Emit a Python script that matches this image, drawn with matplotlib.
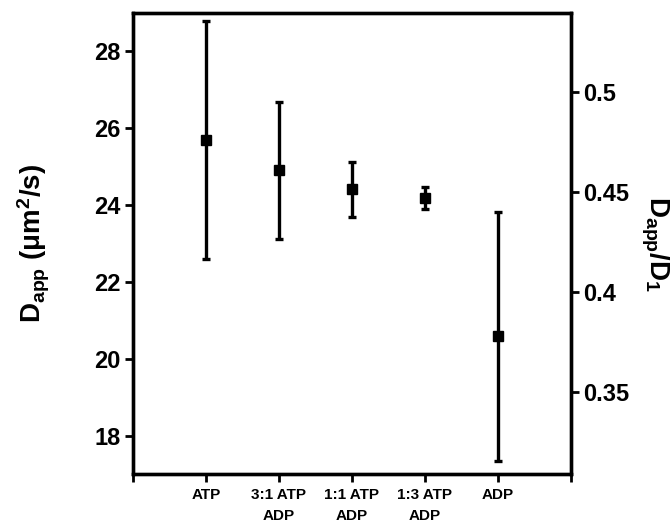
import matplotlib
matplotlib.use("Agg")
import matplotlib.pyplot as plt

plt.rcParams['font.family'] = ['Liberation Sans', 'DejaVu Sans']
plt.rcParams['font.weight'] = 'bold'
plt.rcParams['mathtext.fontset'] = 'custom'
plt.rcParams['mathtext.rm'] = 'Liberation Sans:bold'
plt.rcParams['mathtext.bf'] = 'Liberation Sans:bold'
plt.rcParams['mathtext.it'] = 'Liberation Sans:bold'

categories = ["ATP", "3:1 ATP\nADP", "1:1 ATP\nADP", "1:3 ATP\nADP", "ADP"]
positions = [1, 2, 3, 4, 5]
dapp_mean = [25.70, 24.91, 24.41, 24.19, 20.58]
dapp_err = [3.10, 1.78, 0.72, 0.29, 3.24]
left_ticks = [18, 20, 22, 24, 26, 28]
right_ticks = [0.35, 0.4, 0.45, 0.5]
right_labels = ["0.35", "0.4", "0.45", "0.5"]

fig = plt.figure(figsize=(6.7, 5.29), dpi=100)
ax = fig.add_axes([0.1985, 0.104, 0.6535, 0.8714])

ax.errorbar(positions, dapp_mean, yerr=dapp_err, fmt='s', color='black',
            markersize=7.8, elinewidth=2.4, capsize=3, capthick=2.4)

ax.set_xlim(0, 6)
ax.set_ylim(17, 29)
ax.set_xticks([0] + positions + [6])
ax.set_xticklabels([""] + categories + [""], fontsize=11, fontweight='bold',
                   linespacing=1.65)
ax.set_yticks(left_ticks)
ax.set_yticklabels([str(t) for t in left_ticks], fontsize=17, fontweight='bold')

for s in ax.spines.values():
    s.set_linewidth(2.4)
ax.tick_params(axis='both', direction='out', length=6, width=2, pad=3)
ax.tick_params(axis='x', pad=4)
ax.tick_params(axis='y', right=False)

ax2 = ax.twinx()
ax2.set_ylim(0.309, 0.5395)
ax2.set_yticks(right_ticks)
ax2.set_yticklabels(right_labels, fontsize=17, fontweight='bold')
ax2.tick_params(axis='y', direction='out', length=6, width=2, pad=3)
for s in ax2.spines.values():
    s.set_linewidth(2.4)

ax.set_ylabel(r'$\mathbf{D_{app}}$ (μm$^{\mathbf{2}}$/s)', fontsize=20,
              fontweight='bold', labelpad=30)
ax2.set_ylabel(r'$\mathbf{D_{app}/D_{1}}$', fontsize=20, fontweight='bold',
               rotation=270, labelpad=30)

fig.savefig("out.png", dpi=100)
